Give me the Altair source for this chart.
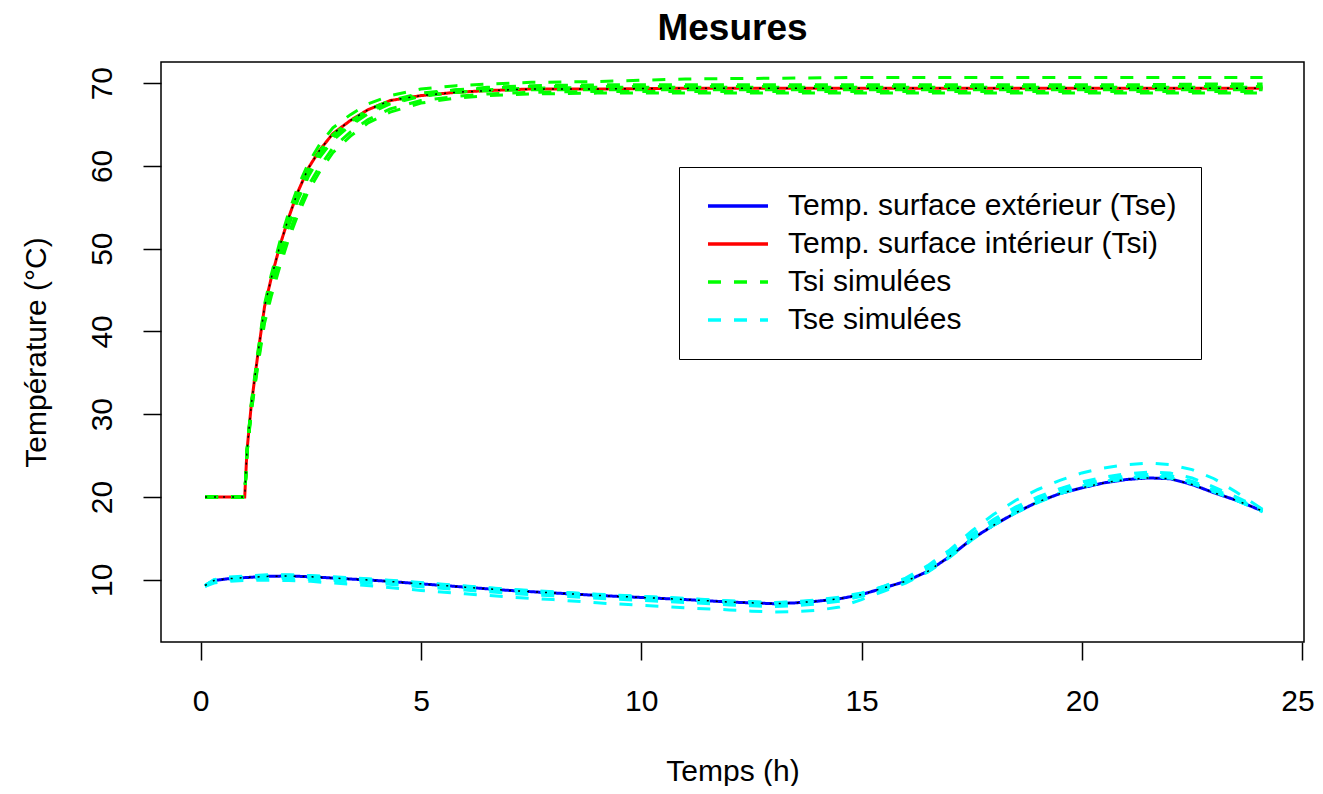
import altair as alt
import pandas as pd

# ---------------- data ----------------
K_TSE = "Temp. surface extérieur (Tse)"
K_TSI = "Temp. surface intérieur (Tsi)"
K_TSI_SIM = "Tsi simulées"
K_TSE_SIM = "Tse simulées"
LEGEND_ORDER = [K_TSE, K_TSI, K_TSI_SIM, K_TSE_SIM]
COLORS = ["#0000FF", "#FF0000", "#00FF00", "#00FFFF"]

X_TICKS = [0, 5, 10, 15, 20, 25]
Y_TICKS = [10, 20, 30, 40, 50, 60, 70]

# time (h) for interior surface temperature
T_TSI = [0.1, 0.5, 1.0, 1.05, 1.15, 1.3, 1.45, 1.6, 1.8, 2.0, 2.2, 2.45, 2.7, 3.0, 3.4,
         3.8, 4.3, 5.0, 5.8, 6.5, 7.5, 9.0, 11.0, 13.0, 15.0, 17.0, 19.0, 21.0, 23.0, 24.1]
TSI_MES = [20.0, 20.0, 20.0, 25.5, 31.2, 37.3, 43.0, 46.4, 50.4, 53.8, 56.8, 59.8, 61.9, 63.9, 65.5,
           66.8, 67.9, 68.5, 68.9, 69.1, 69.3, 69.3, 69.4, 69.4, 69.4, 69.4, 69.4, 69.4, 69.4, 69.4]
TSI_SIM_1 = [20.0, 20.0, 20.0, 25.6, 31.4, 37.6, 43.3, 46.8, 50.9, 54.4, 57.4, 60.4, 62.6, 64.6, 66.2,
             67.5, 68.5, 69.3, 69.7, 69.9, 70.1, 70.2, 70.5, 70.6, 70.7, 70.7, 70.7, 70.7, 70.7, 70.7]
TSI_SIM_2 = [20.0, 20.0, 20.0, 25.4, 31.0, 37.0, 42.6, 46.0, 50.0, 53.4, 56.4, 59.4, 61.6, 63.6, 65.3,
             66.7, 67.8, 68.7, 69.2, 69.5, 69.7, 69.8, 69.8, 69.8, 69.8, 69.8, 69.8, 69.8, 69.9, 69.9]
TSI_SIM_3 = [20.0, 20.0, 20.0, 25.3, 30.8, 36.7, 42.2, 45.5, 49.4, 52.8, 55.8, 58.8, 61.0, 63.1, 64.9,
             66.3, 67.5, 68.4, 68.9, 69.2, 69.4, 69.5, 69.5, 69.5, 69.5, 69.5, 69.5, 69.5, 69.5, 69.5]
TSI_SIM_4 = [20.0, 20.0, 20.0, 25.2, 30.5, 36.2, 41.5, 44.7, 48.5, 51.8, 54.7, 57.7, 59.9, 62.2, 64.1,
             65.6, 66.9, 67.9, 68.4, 68.7, 68.9, 69.0, 69.0, 69.0, 69.0, 69.0, 69.0, 69.0, 69.0, 69.0]
TSI_SIM_5 = [20.0, 20.0, 20.0, 25.1, 30.3, 35.9, 41.0, 44.2, 47.9, 51.2, 54.0, 57.0, 59.3, 61.6, 63.6,
             65.2, 66.5, 67.6, 68.2, 68.5, 68.7, 68.8, 68.8, 68.8, 68.8, 68.8, 68.8, 68.8, 68.8, 68.8]
TSI_SIM_6 = [20.0, 20.0, 20.0, 25.5, 31.1, 37.1, 42.8, 46.2, 50.2, 53.6, 56.6, 59.6, 61.8, 63.8, 65.4,
             66.8, 67.9, 68.8, 69.2, 69.4, 69.6, 69.6, 69.6, 69.6, 69.6, 69.6, 69.6, 69.6, 69.6, 69.6]
TSI_SIM_7 = [20.0, 20.0, 20.0, 25.3, 30.9, 36.9, 42.4, 45.8, 49.8, 53.1, 56.1, 59.1, 61.3, 63.4, 65.1,
             66.5, 67.6, 68.5, 68.9, 69.1, 69.2, 69.2, 69.2, 69.2, 69.2, 69.2, 69.2, 69.2, 69.2, 69.2]

# time (h) for exterior surface temperature
T_TSE = [0.1, 0.3, 0.6, 1.0, 1.5, 2.0, 2.5, 3.0, 4.0, 5.0, 6.0, 7.0, 8.0, 9.0, 10.0, 11.0, 12.0,
         12.5, 13.0, 13.5, 14.0, 14.5, 15.0, 15.5, 16.0, 16.5, 17.0, 17.5, 18.0, 18.5, 19.0, 19.5,
         20.0, 20.5, 21.0, 21.5, 22.0, 22.5, 23.0, 23.5, 24.1]
TSE_MES = [9.3, 9.9, 10.1, 10.25, 10.4, 10.45, 10.35, 10.2, 9.9, 9.5, 9.1, 8.7, 8.4, 8.1, 7.85, 7.6, 7.3,
           7.2, 7.1, 7.2, 7.4, 7.7, 8.2, 9.0, 9.8, 11.0, 12.8, 14.9, 16.6, 18.1, 19.4, 20.4,
           21.1, 21.7, 22.1, 22.3, 22.2, 21.5, 20.5, 19.6, 18.3]
TSE_SIM_1 = [9.3, 9.95, 10.2, 10.3, 10.45, 10.5, 10.4, 10.25, 9.95, 9.55, 9.15, 8.75, 8.45, 8.15, 7.9, 7.65, 7.35,
             7.25, 7.15, 7.25, 7.45, 7.8, 8.3, 9.2, 10.2, 11.7, 13.6, 15.9, 17.9, 19.6, 20.9, 22.0,
             22.9, 23.5, 23.9, 24.1, 23.9, 23.3, 22.2, 20.6, 18.5]
TSE_SIM_2 = [9.2, 9.6, 9.8, 9.9, 9.95, 9.9, 9.8, 9.6, 9.2, 8.7, 8.3, 7.9, 7.6, 7.2, 6.9, 6.6, 6.35,
             6.2, 6.1, 6.15, 6.3, 6.7, 7.6, 8.6, 9.6, 10.9, 12.7, 14.8, 16.6, 18.1, 19.4, 20.5,
             21.3, 21.9, 22.3, 22.5, 22.4, 21.8, 20.8, 19.7, 18.3]
TSE_SIM_3 = [9.3, 10.0, 10.3, 10.45, 10.6, 10.6, 10.5, 10.35, 10.05, 9.65, 9.25, 8.85, 8.55, 8.25, 8.0, 7.75, 7.45,
             7.35, 7.25, 7.35, 7.55, 7.9, 8.4, 9.2, 10.1, 11.5, 13.3, 15.5, 17.3, 18.8, 20.0, 21.0,
             21.8, 22.4, 22.8, 23.0, 22.9, 22.3, 21.2, 20.0, 18.5]
TSE_SIM_4 = [9.2, 9.85, 10.05, 10.2, 10.3, 10.35, 10.25, 10.1, 9.8, 9.4, 9.0, 8.6, 8.3, 8.0, 7.75, 7.5, 7.2,
             7.1, 7.0, 7.1, 7.3, 7.6, 8.1, 8.9, 9.8, 11.0, 12.8, 15.0, 16.7, 18.2, 19.4, 20.4,
             21.2, 21.8, 22.2, 22.4, 22.3, 21.6, 20.6, 19.6, 18.2]
TSE_SIM_5 = [9.3, 9.95, 10.2, 10.35, 10.5, 10.55, 10.45, 10.3, 10.0, 9.6, 9.2, 8.8, 8.5, 8.2, 7.95, 7.7, 7.4,
             7.3, 7.2, 7.3, 7.5, 7.8, 8.3, 9.1, 10.0, 11.3, 13.1, 15.3, 17.0, 18.5, 19.7, 20.7,
             21.5, 22.1, 22.5, 22.7, 22.6, 21.9, 20.9, 19.8, 18.4]
TSE_SIM_6 = [9.2, 9.75, 9.95, 10.05, 10.15, 10.15, 10.05, 9.9, 9.55, 9.15, 8.75, 8.35, 8.05, 7.75, 7.5, 7.25, 6.95,
             6.85, 6.75, 6.85, 7.05, 7.4, 8.0, 8.8, 9.7, 11.0, 12.8, 14.9, 16.6, 18.1, 19.3, 20.4,
             21.2, 21.8, 22.2, 22.4, 22.3, 21.7, 20.7, 19.6, 18.3]

# ---------------- table ----------------
rows = []


def add(ts, vs, kind, src, run):
    for t, v in zip(ts, vs):
        rows.append({"t": t, "v": v, "kind": kind, "src": src, "run": run})


add(T_TSE, TSE_MES, K_TSE, "mes", "tse_mes")
add(T_TSI, TSI_MES, K_TSI, "mes", "tsi_mes")
for i, s in enumerate([TSI_SIM_1, TSI_SIM_2, TSI_SIM_3, TSI_SIM_4, TSI_SIM_5, TSI_SIM_6, TSI_SIM_7]):
    add(T_TSI, s, K_TSI_SIM, "sim", f"tsi_sim_{i}")
for i, s in enumerate([TSE_SIM_1, TSE_SIM_2, TSE_SIM_3, TSE_SIM_4, TSE_SIM_5, TSE_SIM_6]):
    add(T_TSE, s, K_TSE_SIM, "sim", f"tse_sim_{i}")
df = pd.DataFrame(rows)

FONT = "Liberation Sans"

x_enc = alt.X("t:Q", scale=alt.Scale(domain=[-0.90, 25.04], nice=False, zero=False),
              axis=alt.Axis(values=X_TICKS, domain=False, grid=False, tickSize=18, tickWidth=1.5,
                            tickColor="black", labelFontSize=30, labelFont=FONT, labelColor="black",
                            labelPadding=50, labelBaseline="alphabetic",
                            labelFlush=3, labelFlushOffset=12,
                            title="Temps (h)", titleFontSize=30, titleFont=FONT,
                            titleFontWeight="normal", titleColor="black", titleY=138,
                            titleBaseline="alphabetic"))
y_enc = alt.Y("v:Q", scale=alt.Scale(domain=[2.47, 72.56], nice=False, zero=False),
              axis=alt.Axis(values=Y_TICKS, domain=False, grid=False, tickSize=18, tickWidth=1.5,
                            tickColor="black", labelFontSize=30, labelFont=FONT, labelColor="black",
                            labelAngle=270, labelAlign="center", labelBaseline="alphabetic",
                            labelPadding=32, labelFlush=False,
                            title="Température (°C)", titleFontSize=30, titleFont=FONT,
                            titleFontWeight="normal", titleColor="black", titleAngle=270,
                            titleX=-116, titleY=290, titleAlign="center",
                            titleBaseline="alphabetic"))

legend = alt.Legend(orient="none", legendX=518, legendY=105, title=None,
                    symbolType="M-1,0H5", symbolSize=400, symbolStrokeWidth=3.5,
                    labelFontSize=30, labelFont=FONT, labelColor="black", labelLimit=700,
                    labelOffset=55, padding=24, rowPadding=8,
                    strokeColor="black", fillColor="white")

color_enc = alt.Color("kind:N", scale=alt.Scale(domain=LEGEND_ORDER, range=COLORS), legend=legend)
dash_enc = alt.StrokeDash("kind:N",
                          scale=alt.Scale(domain=LEGEND_ORDER,
                                          range=[[1, 0], [1, 0], [13, 13], [13, 13]]),
                          legend=legend)

base = alt.Chart(df)

measured = base.transform_filter(alt.datum.src == "mes").mark_line(strokeWidth=3).encode(
    x=x_enc, y=y_enc, color=color_enc, strokeDash=dash_enc, detail="run:N",
    order="t:Q")
simulated = base.transform_filter(alt.datum.src == "sim").mark_line(strokeWidth=3).encode(
    x=x_enc, y=y_enc, color=color_enc, strokeDash=dash_enc, detail="run:N",
    order="t:Q")
dotted = base.transform_filter(alt.datum.src == "mes").mark_line(
    strokeWidth=1.5, color="black", strokeDash=[2, 7]).encode(
    x=x_enc, y=y_enc, detail="run:N", order="t:Q")

chart = alt.layer(measured, simulated, dotted).properties(
    width=1143, height=580,
    title=alt.TitleParams("Mesures", fontSize=37, font=FONT, fontWeight="bold", color="black",
                          anchor="middle", offset=14),
    padding={"left": 153, "top": 54, "right": 11, "bottom": 144},
    autosize=alt.AutoSizeParams(type="none"),
).configure_view(stroke="black", strokeWidth=1.5)

chart.save("out.html", embed_options={"renderer": "svg", "actions": False})
